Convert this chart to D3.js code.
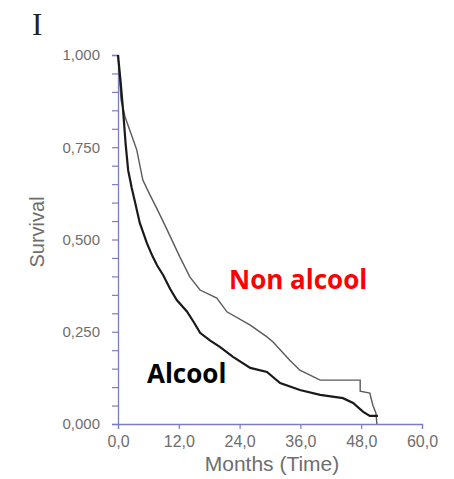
<!DOCTYPE html>
<html>
<head>
<meta charset="utf-8">
<script src="https://cdn.jsdelivr.net/npm/d3@7"></script>
<style>
  body { margin: 0; background: #fff; }
  svg { display: block; }
</style>
</head>
<body>
<div id="chart"></div>
<script>
// survival curves (months, survival)
const alcoolMonths = [0, 0.5, 1.0, 1.5, 2.0, 2.7, 3.4, 4.3, 5.7, 6.8, 7.7, 8.9, 10.3, 11.6, 13.6, 15.0, 16.2, 18.2, 20.1, 22.7, 26.1, 29.4, 32.0, 35.9, 39.9, 44.4, 46.4, 48.4, 49.7, 51.3]
const alcoolSurv = [1.0, 0.93, 0.851, 0.76, 0.688, 0.64, 0.599, 0.545, 0.49, 0.455, 0.43, 0.404, 0.366, 0.336, 0.305, 0.275, 0.247, 0.226, 0.209, 0.182, 0.152, 0.141, 0.111, 0.092, 0.079, 0.070, 0.057, 0.033, 0.022, 0.022]

const nonAlcoolMonths = [0, 0.6, 1.4, 2.8, 3.7, 4.9, 6.3, 7.7, 9.7, 12.2, 14.2, 16.2, 19.5, 21.5, 26.1, 29.4, 30.6, 33.9, 35.9, 39.9, 47.8, 47.8, 49.7, 50.3, 50.9, 51.1]
const nonAlcoolSurv = [1.0, 0.878, 0.832, 0.778, 0.743, 0.661, 0.621, 0.583, 0.526, 0.453, 0.398, 0.363, 0.341, 0.304, 0.268, 0.236, 0.222, 0.173, 0.146, 0.119, 0.119, 0.089, 0.084, 0.051, 0.030, 0.0]

const xTicks = [0, 12, 24, 36, 48, 60]
const yTicks = d3.range(0, 1.0001, 0.05)
const yLabelTicks = [0, 0.25, 0.5, 0.75, 1.0]

const width = 454, height = 479
const margin = {top: 55, right: 32, bottom: 55, left: 118}

const svg = d3.select("#chart")
              .append("svg")
              .attr("width", width)
              .attr("height", height)

const x = d3.scaleLinear()
            .domain([0, 60])
            .range([margin.left, width - margin.right])

const y = d3.scaleLinear()
            .domain([0, 1])
            .range([height - margin.bottom, margin.top])

const comma = f => v => d3.format(f)(v).replace(".", ",")

// Y axis
svg.append("g")
   .attr("transform", `translate(${margin.left}, 0)`)
   .call(d3.axisLeft(y)
           .tickValues(yTicks)
           .tickSize(6)
           .tickPadding(12)
           .tickFormat(v => yLabelTicks.some(t => Math.abs(t - v) < 1e-6) ? comma(".3f")(v) : ""))

// X axis
svg.append("g")
   .attr("class", "x-axis")
   .attr("transform", `translate(0, ${y(0)})`)
   .call(d3.axisBottom(x)
           .tickValues(xTicks)
           .tickSize(5)
           .tickPadding(7)
           .tickFormat(comma(".1f")))

svg.selectAll(".domain").attr("stroke", "#7c7cc4").attr("stroke-width", 1.3)
svg.selectAll(".tick line").attr("stroke", "#7c7cc4").attr("stroke-width", 1.2)
svg.selectAll(".tick text")
   .attr("fill", "#6e6e6e")
   .style("font-family", "Liberation Sans, Arial, sans-serif")
   .style("font-size", "15px")
svg.selectAll(".x-axis .tick text").style("font-size", "16px")

// axis titles
svg.append("text")
   .attr("text-anchor", "middle")
   .attr("transform", "rotate(-90)")
   .attr("x", -232)
   .attr("y", 44)
   .attr("fill", "#6e6e6e")
   .style("font-family", "Liberation Sans, Arial, sans-serif")
   .style("font-size", "20px")
   .text("Survival")

svg.append("text")
   .attr("text-anchor", "middle")
   .attr("x", 272)
   .attr("y", 471)
   .attr("fill", "#6e6e6e")
   .style("font-family", "Liberation Sans, Arial, sans-serif")
   .style("font-size", "21px")
   .text("Months (Time)")

// panel letter
svg.append("text")
   .attr("x", 32)
   .attr("y", 35)
   .attr("fill", "#222")
   .style("font-family", "Liberation Serif, Times New Roman, serif")
   .style("font-size", "31px")
   .text("I")

const line = d3.line()
               .x(d => x(d[0]))
               .y(d => y(d[1]))

// Non alcool curve (thin grey)
svg.append("path")
   .datum(d3.zip(nonAlcoolMonths, nonAlcoolSurv))
   .attr("fill", "none")
   .attr("stroke", "#5a5a5a")
   .attr("stroke-width", 1.4)
   .attr("d", line)

// Alcool curve (thick black)
svg.append("path")
   .datum(d3.zip(alcoolMonths, alcoolSurv))
   .attr("fill", "none")
   .attr("stroke", "#1a1a1a")
   .attr("stroke-width", 2.2)
   .attr("d", line)

// group labels
svg.append("text")
   .attr("x", 229)
   .attr("y", 289)
   .attr("fill", "#ff0000")
   .style("font-family", "Open Sans, sans-serif")
   .style("font-weight", "bold")
   .style("font-size", "26px")
   .text("Non alcool")

svg.append("text")
   .attr("x", 147)
   .attr("y", 383)
   .attr("fill", "#000")
   .style("font-family", "Open Sans, sans-serif")
   .style("font-weight", "bold")
   .style("font-size", "26px")
   .text("Alcool")
</script>
</body>
</html>
